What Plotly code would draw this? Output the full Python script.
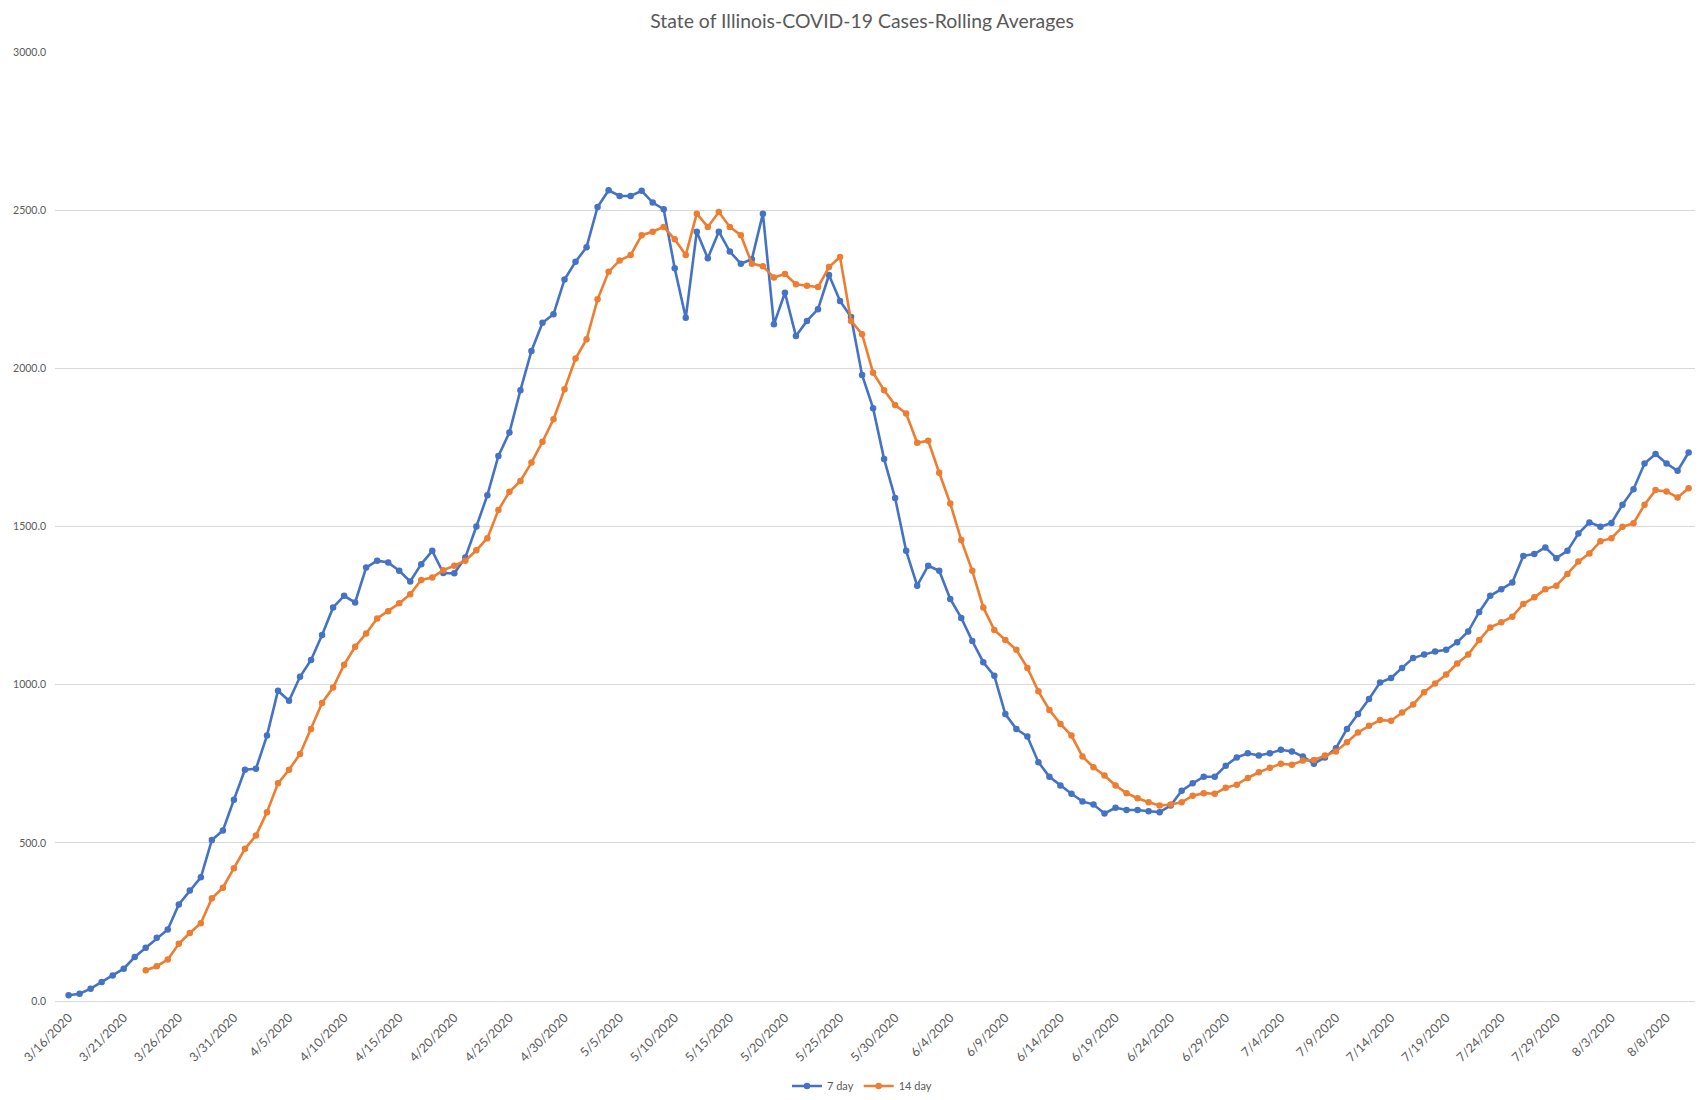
import pandas as pd
import plotly.graph_objects as go

start_date = "2020-03-16"
n_days = 148
dates = pd.date_range(start_date, periods=n_days, freq="D")

seven_day = [
    18, 23, 39, 60, 81, 102, 139, 168, 200, 226, 305, 349, 391, 509, 539, 636, 731, 734, 839, 981,
    949, 1025, 1078, 1157, 1244,
    1281, 1260, 1370, 1392, 1386, 1360, 1326, 1381, 1423, 1353, 1352, 1402, 1500, 1599, 1723, 1797, 1931,
    2055, 2144, 2171, 2281, 2337, 2383, 2510, 2563, 2545, 2545, 2561, 2524, 2503, 2316, 2160, 2432, 2348,
    2432, 2369, 2331, 2345, 2489, 2139, 2239, 2102, 2150,
    2187, 2295, 2213, 2162, 1979, 1874, 1713, 1590, 1423, 1313, 1376, 1360, 1271, 1211,
    1138,
    1071, 1028, 907, 860, 836, 755, 709, 681, 655, 631, 621, 593, 611, 604, 604, 600, 597, 618, 665, 688,
    709, 709, 744,
    770, 783, 776, 783, 794, 789, 773, 750, 770, 799, 860, 907, 955, 1007, 1021, 1053, 1084, 1095, 1105,
    1110, 1134,
    1168, 1230, 1281, 1302, 1323, 1407, 1413, 1434, 1400, 1423, 1478, 1513, 1499, 1511, 1569, 1618, 1699,
    1729, 1699, 1676, 1734,
]

fourteen_start = 7
fourteen_day = [
    97, 110, 131, 181, 215, 246, 325, 358, 420, 481, 523, 597, 688, 731, 781, 860, 942, 991,
    1063, 1120, 1162, 1209, 1232, 1257, 1286, 1331, 1339, 1362, 1376, 1392, 1425, 1463, 1552, 1610, 1644,
    1702, 1768, 1839, 1934, 2031, 2092, 2218, 2305, 2341, 2358, 2421, 2432, 2447, 2408, 2358, 2489, 2447,
    2494, 2447, 2421, 2331, 2323, 2287, 2298, 2266, 2261,
    2257, 2320, 2352, 2150, 2108, 1986, 1931, 1884, 1857, 1765, 1771, 1670, 1573, 1457, 1360, 1244, 1173,
    1141, 1110, 1053, 979, 920, 876, 839, 773, 739, 713, 681, 657, 641, 628, 618, 621, 628, 649, 657, 655,
    674, 684, 705, 723,
    737, 750, 747, 760, 762, 776, 789, 818, 849, 870, 888, 886, 912, 937, 976, 1004, 1032, 1067,
    1095, 1141, 1181, 1197, 1215, 1255, 1276, 1302, 1313, 1350, 1389, 1415, 1453, 1463, 1499, 1510, 1569,
    1615, 1611, 1592, 1621,
]

title_text = "State of Illinois-COVID-19 Cases-Rolling Averages"
series_names = ["7 day", "14 day"]
blue = "#4472C4"
orange = "#ED7D31"
grey_text = "#595959"
font_family = "Lato, 'Liberation Sans', Arial, sans-serif"

fig = go.Figure()
fig.add_trace(go.Scatter(
    x=dates, y=seven_day, name=series_names[0], mode="lines+markers",
    line=dict(color=blue, width=2.6), marker=dict(color=blue, size=6.5, symbol="circle"),
))
fig.add_trace(go.Scatter(
    x=dates[fourteen_start:], y=fourteen_day, name=series_names[1], mode="lines+markers",
    line=dict(color=orange, width=2.6), marker=dict(color=orange, size=6.5, symbol="circle"),
))

day_ms = 86400000
x_lo = dates[0] - pd.Timedelta(hours=1.234 * 24)
x_hi = dates[-1] + pd.Timedelta(hours=0.58 * 24)

W, H = 1708, 1100
fig.update_layout(
    width=W, height=H,
    margin=dict(l=47, r=21, t=44.3, b=107.4, pad=0, autoexpand=False),
    paper_bgcolor="white", plot_bgcolor="white",
    font=dict(family=font_family, color=grey_text),
    title=dict(text=title_text, x=0.5, xanchor="center", y=1 - 13 / H, yanchor="middle",
               xref="container", yref="container",
               font=dict(size=19.4, color=grey_text, family=font_family)),
    showlegend=True,
    legend=dict(orientation="h", x=0.5, xanchor="center", y=22 / H, yanchor="middle",
                xref="container", yref="container",
                font=dict(size=11, color=grey_text), itemwidth=30, tracegroupgap=0),
    xaxis=dict(
        type="date", range=[x_lo, x_hi], tick0=start_date, dtick=5 * day_ms,
        tickformat="%-m/%-d/%Y", tickangle=-45, showgrid=False, zeroline=False,
        showline=False, ticks="", tickfont=dict(size=12.5, color=grey_text),
        ticklabelstandoff=6, automargin=False,
    ),
    yaxis=dict(
        range=[0, 3000], dtick=500, tickformat=".1f", showgrid=True, gridcolor="#D9D9D9",
        gridwidth=1, zeroline=True, zerolinecolor="#D9D9D9", zerolinewidth=1,
        showline=False, ticks="", tickfont=dict(size=10.5, color=grey_text),
        ticklabelstandoff=8, automargin=False,
    ),
)

fig.write_html("out.html")
